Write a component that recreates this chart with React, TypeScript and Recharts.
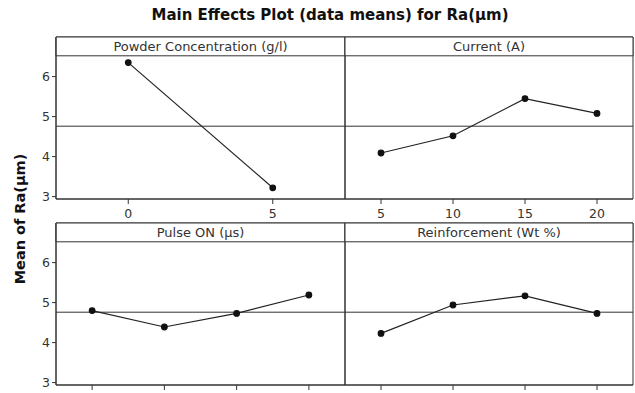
import { LineChart, Line, XAxis, YAxis, ReferenceLine, ReferenceArea } from "recharts";

// factor levels and the mean Ra at each level
const POWDER_LEVELS = ["0", "5"];
const POWDER_MEANS = [6.35, 3.22];

const CURRENT_LEVELS = ["5", "10", "15", "20"];
const CURRENT_MEANS = [4.09, 4.52, 5.45, 5.08];

const PULSE_LEVELS = ["P1", "P2", "P3", "P4"];
const PULSE_MEANS = [4.8, 4.39, 4.73, 5.19];

const REINF_LEVELS = ["R1", "R2", "R3", "R4"];
const REINF_MEANS = [4.23, 4.94, 5.17, 4.73];

const GRAND_MEAN = 4.76;
const Y_TICKS = [3, 4, 5, 6];
const Y_MIN = 2.94;
const Y_MAX = 6.99;
const HEADER_BOTTOM = 6.52;

const FONT = "'DejaVu Sans', Verdana, sans-serif";
const INK = "#333";

type PanelProps = {
  title: string;
  levels: string[];
  means: number[];
  left: number;
  top: number;
  width: number;
  height: number;
  marginTop: number;
  showY: boolean;
  showXLabels: boolean;
  xHeight: number;
};

function Panel(p: PanelProps) {
  const data = p.levels.map((level, i) => ({ level, mean: p.means[i] }));
  return (
    <div style={{ position: "absolute", left: p.left, top: p.top }}>
      <LineChart
        width={p.width}
        height={p.height}
        data={data}
        margin={{ top: p.marginTop, right: 1, bottom: 0, left: p.showY ? 0 : 1 }}
      >
        <XAxis
          dataKey="level"
          scale="band"
          height={p.xHeight}
          stroke={INK}
          tickSize={5}
          tickMargin={5}
          tickFormatter={p.showXLabels ? undefined : () => ""}
          tick={{ fill: INK, fontSize: 12.5, fontFamily: FONT }}
        />
        <YAxis
          hide={!p.showY}
          width={56}
          domain={[Y_MIN, Y_MAX]}
          ticks={Y_TICKS}
          allowDataOverflow
          stroke={INK}
          tickSize={4}
          tickMargin={2}
          tick={{ fill: INK, fontSize: 12.5, fontFamily: FONT }}
        />
        <ReferenceArea y1={Y_MIN} y2={Y_MAX} fill="none" stroke={INK} strokeWidth={1} />
        <ReferenceArea
          y1={HEADER_BOTTOM}
          y2={Y_MAX}
          fill="#fff"
          fillOpacity={1}
          stroke={INK}
          strokeWidth={1}
          label={{ value: p.title, position: "center", fill: INK, fontSize: 13, fontFamily: FONT }}
        />
        <ReferenceLine y={GRAND_MEAN} stroke={INK} strokeWidth={1} />
        <Line
          type="linear"
          dataKey="mean"
          stroke="#222"
          strokeWidth={1.2}
          dot={{ r: 2.8, fill: "#111", stroke: "#111" }}
          isAnimationActive={false}
        />
      </LineChart>
    </div>
  );
}

export default function App() {
  return (
    <div
      style={{
        position: "absolute",
        left: 0,
        top: 0,
        width: 635,
        height: 393,
        background: "#fff",
        fontFamily: FONT,
        overflow: "hidden",
      }}
    >
      <div
        style={{
          position: "absolute",
          left: 0,
          top: 6,
          width: 660,
          textAlign: "center",
          fontSize: 15,
          fontWeight: "bold",
          color: "#111",
        }}
      >
        Main Effects Plot (data means) for Ra(µm)
      </div>
      <div
        style={{
          position: "absolute",
          left: 20,
          top: 219,
          transform: "translate(-50%, -50%) rotate(-90deg)",
          whiteSpace: "nowrap",
          fontSize: 14.5,
          fontWeight: "bold",
          color: "#111",
        }}
      >
        Mean of Ra(µm)
      </div>
      <Panel title="Powder Concentration (g/l)" levels={POWDER_LEVELS} means={POWDER_MEANS}
        left={0} top={0} width={346} height={225} marginTop={37} showY showXLabels xHeight={26} />
      <Panel title="Current (A)" levels={CURRENT_LEVELS} means={CURRENT_MEANS}
        left={344} top={0} width={290} height={225} marginTop={37} showY={false} showXLabels xHeight={26} />
      <Panel title="Pulse ON (µs)" levels={PULSE_LEVELS} means={PULSE_MEANS}
        left={0} top={200} width={346} height={193} marginTop={23} showY showXLabels={false} xHeight={8} />
      <Panel title="Reinforcement (Wt %)" levels={REINF_LEVELS} means={REINF_MEANS}
        left={344} top={200} width={290} height={193} marginTop={23} showY={false} showXLabels={false} xHeight={8} />
    </div>
  );
}
